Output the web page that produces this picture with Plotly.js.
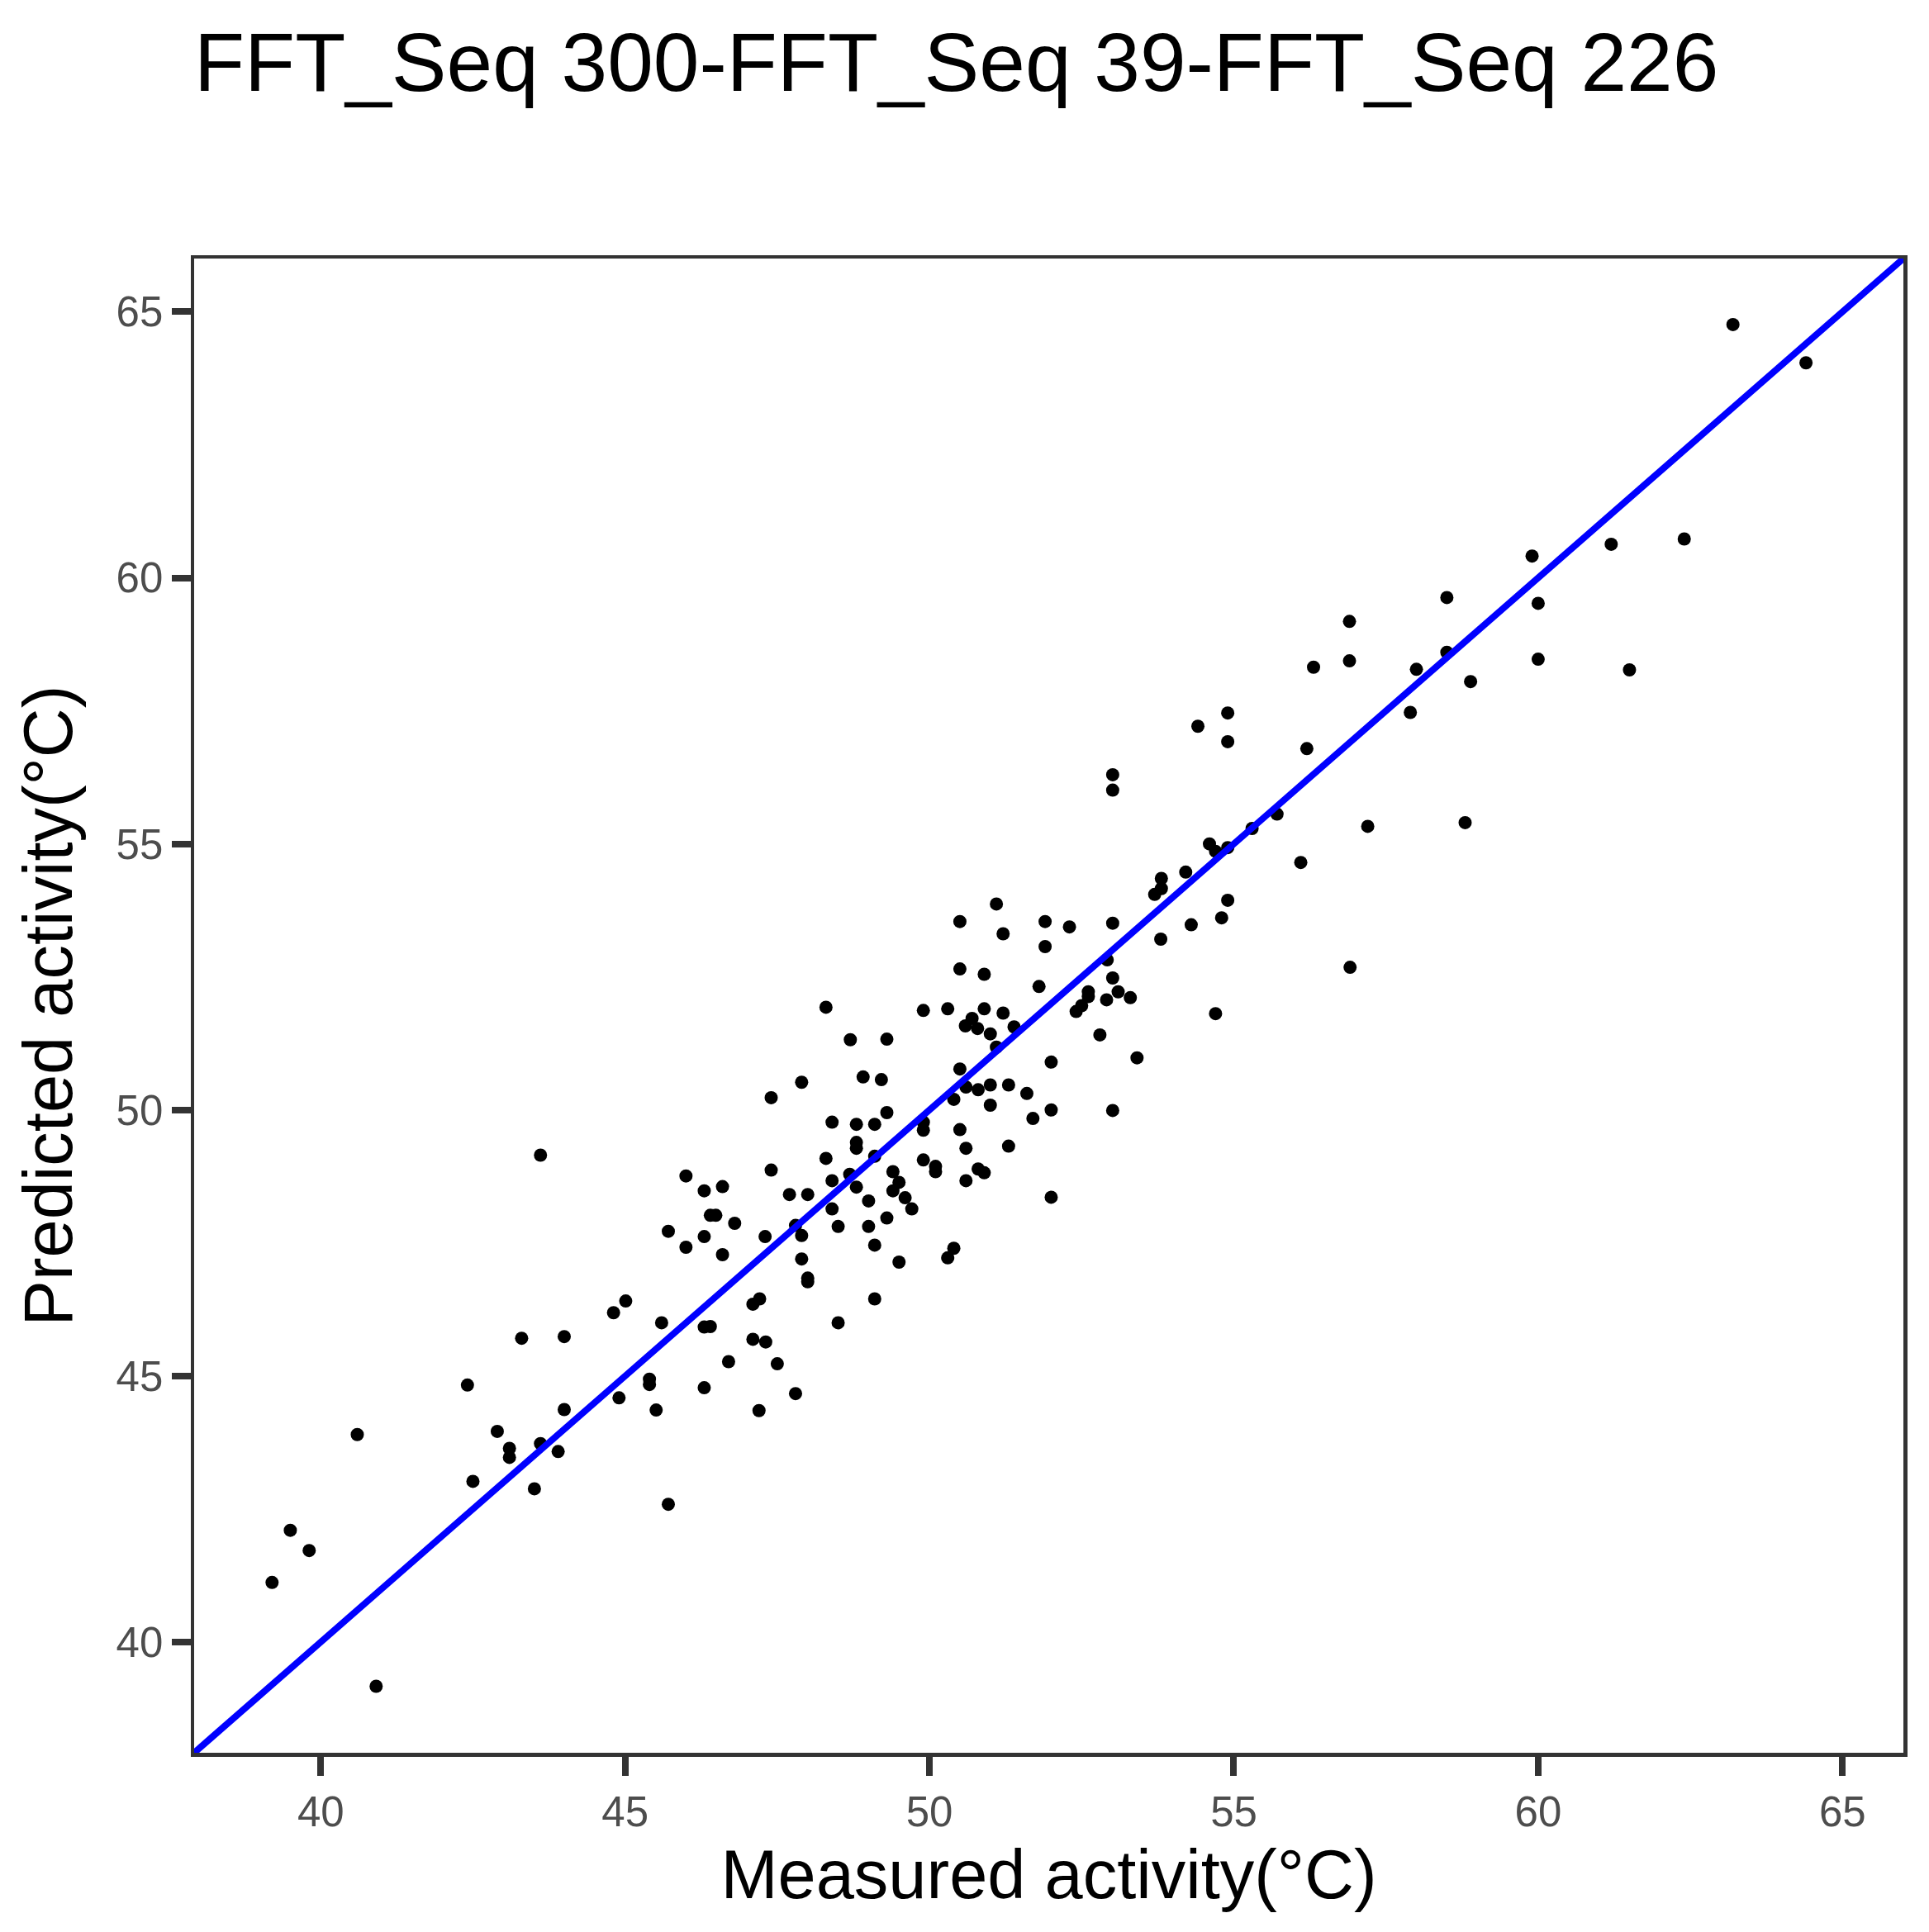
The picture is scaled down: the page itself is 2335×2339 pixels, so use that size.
<!DOCTYPE html>
<html>
<head>
<meta charset="utf-8">
<script src="https://cdn.plot.ly/plotly-3.0.1.min.js"></script>
<style>
  html, body { margin: 0; padding: 0; background: #fff; }
  #plot { width: 2335px; height: 2339px; }
</style>
</head>
<body>
<div id="plot"></div>
<script>
// values
const measured = [
  63.20, 64.40, 61.20, 62.40, 59.90, 58.50, 60.00, 56.90, 58.50, 56.31, 56.90, 58.00, 60.00, 58.89, 61.50, 57.90, 56.20, 55.71, 55.30, 57.20, 58.80, 56.10,
  54.90, 54.41, 54.90, 53.01, 53.01, 54.60, 54.70, 54.90, 54.21, 53.81, 53.81, 53.70, 51.10, 50.50, 51.21, 51.90, 52.30, 53.01, 51.90, 56.91,
  53.80, 54.30, 54.80, 54.90, 54.70, 50.50, 50.90, 51.80, 53.01, 52.92, 52.61, 52.61, 53.10, 53.30, 52.91, 52.50, 52.41, 52.80, 53.41, 52.00,
  49.90, 50.30, 50.90, 51.21, 50.70, 50.59, 50.79, 51.00, 51.39, 51.10, 50.50,
  52.00, 53.01, 52.00, 48.30, 48.70, 49.30, 47.90, 47.40, 48.91, 49.21, 50.50, 50.60, 50.80, 51.00, 51.30, 51.60, 51.00, 51.70, 50.40, 49.90,
  49.90, 50.60, 51.30, 50.80, 50.90, 50.60, 49.90, 50.10, 50.10, 49.30, 49.10, 48.80, 48.40, 48.80, 48.80, 49.10, 48.30, 47.40, 48.69, 48.40,
  48.80, 49.40, 49.50, 49.40, 49.60, 49.71, 49.00, 48.40, 48.00, 47.70, 49.00, 49.30, 49.10, 48.50, 49.50, 50.40, 50.30, 49.10, 48.50, 47.90,
  47.80, 47.90, 48.00, 48.00, 47.30, 46.80, 46.60, 46.30, 46.00, 46.40, 46.49, 46.30, 45.71, 46.00, 46.60, 45.01, 44.81, 45.60, 46.30, 46.40,
  47.10, 47.21, 47.10, 47.31, 46.70, 47.50, 45.40, 45.40, 44.90, 45.51, 46.30, 47.20, 47.80,
  43.61, 43.30, 44.00, 45.71, 42.41, 44.00, 42.90, 43.10, 43.10, 43.61, 43.90, 42.50, 43.51, 40.60, 39.50, 39.81, 39.20, 40.91
];
const predicted = [
  64.76, 64.04, 60.63, 60.73, 60.41, 59.63, 59.52, 59.18, 58.60, 58.32, 58.44, 58.28, 58.47, 58.05, 58.27, 57.47, 56.79, 55.56, 55.29, 55.33, 55.40, 54.65,
  57.46, 57.21, 56.92, 56.30, 56.01, 55.00, 54.86, 54.93, 54.47, 54.35, 54.16, 54.05, 53.87, 53.54, 53.31, 53.54, 53.44, 53.51, 53.07, 52.68,
  53.21, 53.48, 53.61, 53.94, 51.81, 52.65, 52.55, 52.32, 52.48, 52.82, 52.22, 52.13, 52.22, 52.11, 52.07, 51.96, 51.85, 51.41, 50.98, 50.90,
  51.87, 51.90, 51.90, 51.82, 51.72, 51.58, 51.53, 51.43, 51.56, 51.18, 50.77,
  50.00, 49.99, 48.36, 51.93, 51.32, 51.33, 50.52, 50.23, 50.62, 50.57, 49.63, 50.43, 50.38, 50.47, 50.47, 50.31, 50.09, 49.84, 50.20, 49.77,
  49.62, 49.28, 49.32, 48.89, 48.82, 48.67, 49.06, 48.94, 48.84, 49.95, 49.73, 49.73, 49.77, 49.39, 49.28, 49.13, 49.09, 48.87, 48.79, 48.67,
  48.55, 48.84, 48.64, 48.48, 48.35, 48.14, 48.29, 48.14, 48.41, 48.41, 47.81, 47.97, 47.46, 47.81, 47.14, 47.40, 47.22, 46.45, 46.00, 47.64,
  47.83, 47.20, 46.84, 46.77, 47.62, 47.87, 48.56, 48.48, 48.76, 48.02, 48.02, 47.62, 47.72, 47.42, 47.28, 46.41, 46.19, 46.00, 45.92, 45.93,
  46.35, 46.45, 45.69, 45.64, 45.27, 45.23, 44.94, 44.84, 44.59, 44.36, 44.78, 44.35, 44.67,
  49.15, 45.71, 45.74, 42.59, 44.83, 44.37, 43.96, 43.64, 43.47, 43.73, 43.58, 43.02, 42.88, 43.90, 42.10, 41.72, 41.12, 39.17
];
const tickValues = [40, 45, 50, 55, 60, 65];
const axisRange = [37.92, 66.0];

const chartTitle = 'FFT_Seq 300-FFT_Seq 39-FFT_Seq 226';
const xLabel = 'Measured activity(°C)';
const yLabel = 'Predicted activity(°C)';

const fontFamily = '"Liberation Sans", Arial, Helvetica, sans-serif';

function axisStyle(label) {
  return {
    range: axisRange,
    tickvals: tickValues,
    ticks: 'outside',
    ticklen: 23,
    tickwidth: 8,
    tickcolor: '#333333',
    tickfont: {family: fontFamily, size: 51, color: '#4D4D4D'},
    showline: true,
    linecolor: '#333333',
    linewidth: 4.5,
    mirror: true,
    showgrid: false,
    zeroline: false,
    automargin: false,
    title: {text: label, font: {family: fontFamily, size: 83, color: '#000000'}}
  };
}

const points = {
  x: measured,
  y: predicted,
  type: 'scatter',
  mode: 'markers',
  marker: {color: '#000000', size: 16},
  hoverinfo: 'x+y'
};

// y = x reference line across the whole panel
const identity = {
  x: axisRange,
  y: axisRange,
  type: 'scatter',
  mode: 'lines',
  line: {color: '#0000FF', width: 8},
  hoverinfo: 'skip'
};

const xaxis = axisStyle(xLabel);
xaxis.title.standoff = 20;
const yaxis = axisStyle(yLabel);
yaxis.title.standoff = 27;

const layout = {
  width: 2335,
  height: 2339,
  margin: {l: 235, r: 31, t: 313, b: 217, pad: 0},
  paper_bgcolor: '#ffffff',
  plot_bgcolor: '#ffffff',
  showlegend: false,
  font: {family: fontFamily},
  title: {
    text: chartTitle,
    font: {family: fontFamily, size: 100, color: '#000000'},
    xref: 'paper',
    x: 0,
    xanchor: 'left',
    yref: 'container',
    y: 1 - 75 / 2339,
    yanchor: 'middle'
  },
  xaxis: xaxis,
  yaxis: yaxis
};

Plotly.newPlot('plot', [points, identity], layout, {staticPlot: true});
</script>
</body>
</html>
